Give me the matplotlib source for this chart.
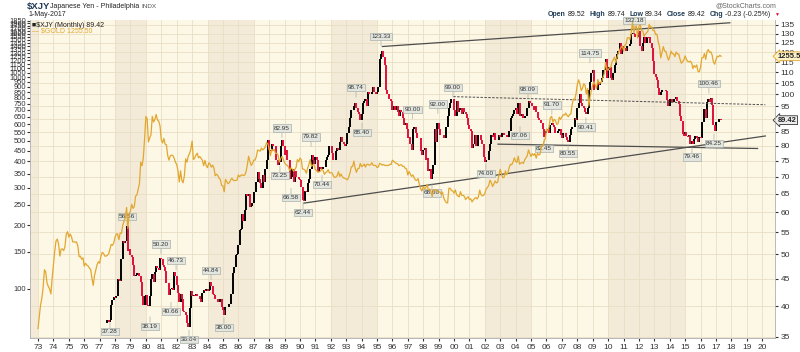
import matplotlib
matplotlib.use("Agg")
import matplotlib.pyplot as plt
import matplotlib.ticker as mticker
import numpy as np

plt.rcParams['font.family'] = ['Liberation Sans', 'DejaVu Sans']

# ---- data (monthly closes) ----
xjy_start = 1977 + 6 / 12.0   # Jul 1977
xjy_close = [
    37.6, 37.4, 37.7, 40.2, 41.0, 41.6,                                   # 1977 Jul-Dec
    41.5, 41.8, 45.0, 44.8, 44.6, 49.0, 52.9, 52.6, 52.9, 56.5, 50.8, 51.3,  # 1978
    49.8, 49.5, 47.8, 45.5, 45.7, 46.1, 46.1, 45.5, 44.4, 41.7, 40.2, 41.7,  # 1979
    42.0, 40.2, 40.0, 41.8, 45.0, 45.9, 44.4, 46.3, 47.6, 47.2, 46.7, 49.3,  # 1980
    49.0, 47.8, 47.4, 46.5, 44.2, 44.2, 42.0, 43.1, 43.3, 42.9, 46.3, 45.5,  # 1981
    43.9, 42.4, 40.7, 42.2, 41.2, 39.2, 38.9, 38.5, 37.2, 36.6, 39.7, 42.6,  # 1982
    41.7, 42.0, 41.8, 42.2, 41.8, 41.7, 41.3, 40.7, 42.4, 42.9, 42.6, 43.1,  # 1983
    42.7, 42.9, 44.4, 43.7, 42.2, 42.0, 41.2, 41.3, 40.7, 40.7, 41.2, 39.8,  # 1984
    39.4, 38.5, 39.8, 39.8, 39.8, 40.3, 42.2, 42.2, 46.1, 47.4, 49.8, 50.0,  # 1985
    52.1, 55.6, 55.9, 59.5, 57.8, 60.6, 64.9, 64.5, 64.9, 61.3, 61.7, 62.5,  # 1986
    65.4, 65.4, 68.5, 71.4, 69.4, 68.0, 66.7, 70.4, 68.5, 72.5, 75.2, 82.0,  # 1987
    78.7, 78.1, 80.6, 80.0, 80.0, 75.2, 75.2, 73.5, 74.6, 80.0, 82.0, 80.0,  # 1988
    76.9, 78.7, 75.2, 75.2, 69.4, 69.9, 72.5, 68.5, 71.9, 69.9, 69.9, 69.4,  # 1989
    69.0, 67.1, 63.3, 62.9, 65.8, 65.4, 68.0, 69.4, 72.5, 76.9, 75.2, 74.1,  # 1990
    76.3, 75.2, 71.4, 73.0, 72.5, 72.5, 73.0, 73.0, 75.2, 76.3, 76.9, 80.0,  # 1991
    80.0, 77.5, 75.2, 75.2, 78.1, 79.4, 78.7, 81.3, 83.3, 81.3, 80.6, 80.0,  # 1992
    80.6, 84.7, 87.0, 90.1, 93.5, 93.5, 95.2, 96.2, 94.3, 92.6, 91.7, 89.3,  # 1993
    91.7, 96.2, 97.1, 98.0, 95.2, 101.0, 100.0, 100.0, 101.0, 103.1, 101.0, 100.0,  # 1994
    101.0, 103.1, 116.3, 119.0, 120.5, 117.6, 113.6, 102.0, 100.0, 98.0, 98.0, 97.1,  # 1995
    93.5, 95.2, 93.5, 95.2, 92.6, 90.9, 93.5, 92.6, 90.1, 87.7, 88.5, 86.2,  # 1996
    82.6, 83.3, 80.6, 78.7, 86.2, 87.0, 84.7, 82.6, 82.6, 82.6, 78.1, 76.9,  # 1997
    78.7, 79.4, 75.2, 75.8, 71.9, 72.5, 69.4, 70.9, 73.5, 86.2, 81.3, 88.5,  # 1998
    86.2, 84.0, 84.0, 84.0, 82.6, 82.6, 87.0, 90.9, 94.3, 96.2, 98.0, 98.0,  # 1999
    93.5, 90.9, 97.1, 92.6, 93.5, 94.3, 91.7, 94.3, 92.6, 91.7, 90.1, 87.7,  # 2000
    86.2, 85.5, 79.4, 80.6, 84.0, 80.0, 80.0, 84.0, 84.0, 82.0, 80.6, 76.3,  # 2001
    74.6, 75.2, 75.2, 78.1, 80.6, 84.0, 83.3, 84.7, 82.0, 82.0, 82.0, 84.0,  # 2002
    83.3, 84.7, 84.7, 84.0, 84.0, 83.3, 83.3, 85.5, 90.1, 90.9, 91.7, 93.5,  # 2003
    94.3, 91.7, 96.2, 90.9, 90.9, 91.7, 90.1, 90.9, 90.9, 94.3, 97.1, 96.2,  # 2004
    96.2, 95.2, 93.5, 95.2, 92.6, 90.1, 89.3, 89.3, 88.5, 86.2, 83.3, 84.7,  # 2005
    85.5, 86.2, 84.7, 87.7, 88.5, 87.7, 87.0, 84.7, 84.7, 85.5, 86.2, 84.0,  # 2006
    82.6, 84.7, 84.7, 83.3, 82.0, 81.3, 84.0, 86.2, 87.0, 87.0, 90.1, 89.3,  # 2007
    94.3, 96.2, 100.0, 96.2, 95.2, 94.3, 92.6, 91.7, 94.3, 102.0, 105.3, 109.9,  # 2008
    111.1, 102.0, 102.0, 102.0, 105.3, 104.2, 105.3, 107.5, 111.1, 111.1, 116.3, 107.5,  # 2009
    111.1, 112.4, 107.5, 106.4, 109.9, 113.6, 116.3, 119.0, 120.5, 125.0, 119.0, 123.5,  # 2010
    122.0, 122.0, 120.5, 123.5, 123.5, 124.2, 129.9, 130.5, 129.9, 128.2, 128.2, 129.9,  # 2011
    131.6, 123.5, 120.5, 125.0, 128.2, 125.0, 128.2, 127.4, 128.2, 125.0, 122.0, 115.3,  # 2012
    109.1, 108.0, 106.2, 102.7, 99.5, 100.8, 102.1, 101.9, 101.7, 101.6, 97.7, 95.0,  # 2013
    98.0, 98.2, 96.9, 97.8, 98.2, 98.7, 97.3, 96.1, 91.2, 89.0, 84.3, 83.5,  # 2014
    85.1, 83.6, 83.3, 83.8, 80.6, 81.7, 80.7, 82.5, 83.4, 82.9, 81.2, 83.2,  # 2015
    82.6, 88.7, 88.9, 93.9, 90.3, 96.9, 97.9, 96.7, 98.6, 95.4, 87.4, 85.5,  # 2016
    88.7, 88.7, 89.8, 89.7, 89.42,                                         # 2017 Jan-May
]

gold_start = 1973.0
gold_close = [
    65.1, 74.2, 84.3, 90.5, 102.0, 123.3, 120.2, 106.8, 103.0, 100.1, 94.8, 112.3,  # 1973
    129.3, 150.2, 168.4, 172.2, 163.3, 143.0, 154.1, 154.6, 151.8, 158.8, 181.7, 186.5,  # 1974
    175.8, 181.8, 177.3, 167.0, 167.0, 166.3, 166.7, 159.8, 142.0, 142.9, 138.2, 140.3,  # 1975
    128.2, 132.3, 129.6, 128.4, 125.5, 123.8, 112.5, 104.0, 116.0, 123.2, 130.3, 134.5,  # 1976
    132.3, 142.8, 148.9, 147.3, 143.0, 143.0, 144.1, 146.3, 154.1, 162.3, 160.5, 165.0,  # 1977
    175.8, 182.3, 181.6, 170.9, 184.2, 183.1, 200.3, 208.7, 217.1, 242.6, 193.4, 226.0,  # 1978
    233.7, 251.3, 240.1, 245.3, 274.6, 277.5, 296.5, 315.1, 397.3, 382.0, 415.7, 512.0,  # 1979
    653.0, 637.0, 494.5, 517.0, 535.5, 653.5, 614.3, 631.3, 666.8, 629.0, 619.8, 589.8,  # 1980
    506.5, 489.0, 513.8, 482.8, 479.3, 426.0, 406.0, 425.0, 428.8, 427.0, 414.5, 397.5,  # 1981
    387.0, 362.6, 320.0, 361.3, 325.3, 317.5, 342.9, 411.5, 397.0, 423.3, 436.0, 456.9,  # 1982
    499.5, 408.5, 414.8, 429.3, 437.5, 416.0, 422.0, 414.3, 405.0, 382.0, 405.0, 382.4,  # 1983
    373.8, 394.3, 388.5, 375.8, 384.3, 373.1, 342.4, 348.3, 343.8, 333.5, 329.0, 308.3,  # 1984
    306.7, 287.8, 329.3, 321.4, 314.0, 317.8, 327.5, 333.3, 326.0, 325.1, 325.3, 326.8,  # 1985
    345.5, 338.8, 344.0, 345.8, 343.2, 345.5, 357.5, 384.7, 423.2, 401.0, 383.5, 390.9,  # 1986
    405.9, 405.9, 421.0, 453.3, 451.0, 447.3, 462.5, 453.4, 459.5, 468.8, 492.5, 484.1,  # 1987
    458.0, 426.2, 457.0, 449.0, 455.5, 436.6, 436.8, 427.8, 397.7, 412.4, 422.6, 410.3,  # 1988
    394.0, 387.0, 383.2, 377.6, 361.8, 373.0, 368.3, 359.8, 366.5, 375.3, 408.2, 398.6,  # 1989
    415.1, 407.7, 368.5, 367.8, 363.1, 352.2, 372.3, 387.8, 408.4, 379.5, 384.9, 386.2,  # 1990
    366.0, 362.7, 355.7, 357.7, 360.4, 368.4, 362.9, 347.4, 354.9, 357.5, 366.3, 353.2,  # 1991
    354.1, 353.1, 341.7, 336.4, 337.5, 343.4, 357.8, 340.0, 349.0, 339.3, 334.2, 333.3,  # 1992
    330.5, 327.6, 337.8, 354.3, 377.9, 378.5, 401.8, 371.6, 355.5, 369.6, 370.9, 391.8,  # 1993
    377.9, 381.6, 389.2, 376.5, 387.6, 388.3, 384.0, 385.8, 394.9, 383.9, 383.1, 383.3,  # 1994
    374.9, 376.4, 392.0, 389.8, 384.3, 387.1, 383.4, 382.4, 384.0, 382.7, 387.8, 387.0,  # 1995
    405.6, 400.7, 396.4, 391.3, 390.6, 382.0, 385.3, 386.5, 379.0, 379.5, 371.3, 369.3,  # 1996
    345.5, 358.6, 348.2, 340.2, 345.6, 334.6, 326.4, 325.4, 332.1, 311.4, 296.8, 290.2,  # 1997
    304.9, 297.4, 301.0, 310.7, 293.6, 296.3, 288.9, 273.4, 293.9, 292.3, 294.7, 287.8,  # 1998
    287.1, 287.3, 279.5, 286.6, 268.6, 261.0, 255.6, 254.8, 299.0, 299.1, 291.4, 290.3,  # 1999
    283.3, 293.7, 278.4, 275.1, 272.3, 288.2, 276.8, 277.0, 273.7, 264.5, 269.1, 272.7,  # 2000
    264.5, 266.7, 257.7, 263.2, 267.5, 270.6, 265.9, 273.0, 293.1, 278.8, 275.5, 276.5,  # 2001
    282.3, 296.9, 301.4, 308.2, 326.6, 318.5, 304.7, 312.8, 323.7, 316.9, 319.1, 347.2,  # 2002
    367.5, 347.5, 334.9, 336.8, 361.4, 346.0, 354.8, 375.6, 388.0, 386.3, 398.4, 416.3,  # 2003
    399.8, 395.9, 423.7, 388.5, 393.3, 395.8, 391.4, 407.3, 415.7, 425.6, 453.4, 435.6,  # 2004
    422.2, 435.5, 427.5, 435.7, 414.5, 437.1, 429.0, 433.3, 473.3, 470.8, 495.7, 513.0,  # 2005
    568.8, 556.0, 582.0, 644.0, 653.0, 613.5, 632.5, 623.5, 599.3, 603.8, 646.7, 632.0,  # 2006
    650.5, 664.2, 661.8, 677.0, 659.1, 650.5, 665.5, 672.0, 743.0, 789.5, 783.5, 833.8,  # 2007
    923.3, 971.5, 933.5, 865.0, 885.8, 930.3, 918.0, 833.0, 884.5, 730.8, 814.5, 869.8,  # 2008
    919.5, 952.0, 916.5, 883.3, 975.5, 934.5, 939.0, 955.5, 995.8, 1040.0, 1175.8, 1087.5,  # 2009
    1078.5, 1109.5, 1113.3, 1179.3, 1207.5, 1244.0, 1169.0, 1246.0, 1307.0, 1346.8, 1383.5, 1405.5,  # 2010
    1327.0, 1411.0, 1439.0, 1535.5, 1536.5, 1505.5, 1628.5, 1813.5, 1620.0, 1722.0, 1746.0, 1531.0,  # 2011
    1744.0, 1770.0, 1662.5, 1651.3, 1558.0, 1598.5, 1622.0, 1648.5, 1776.0, 1719.0, 1726.0, 1657.5,  # 2012
    1664.8, 1588.5, 1598.3, 1469.0, 1394.5, 1234.6, 1314.5, 1394.8, 1326.5, 1324.0, 1253.0, 1204.5,  # 2013
    1251.0, 1326.5, 1291.8, 1288.5, 1250.5, 1315.0, 1285.3, 1285.8, 1216.5, 1164.3, 1182.8, 1206.0,  # 2014
    1260.3, 1214.0, 1187.0, 1180.3, 1190.6, 1171.0, 1098.4, 1135.0, 1114.0, 1142.4, 1065.0, 1060.3,  # 2015
    1116.4, 1234.9, 1237.0, 1293.6, 1212.9, 1320.8, 1350.9, 1309.3, 1317.1, 1271.6, 1178.1, 1151.7,  # 2016
    1212.8, 1255.6, 1249.2, 1268.3, 1255.5,                                                # 2017
]

# annotated turning points: (time, value, above/below)
pivots = [
    (1977.67, 37.28, 'low'), (1978.78, 56.56, 'high'), (1980.27, 38.19, 'low'),
    (1980.98, 50.20, 'high'), (1981.63, 40.66, 'low'), (1981.96, 46.73, 'high'),
    (1982.80, 36.04, 'low'), (1984.23, 44.84, 'high'), (1985.07, 38.00, 'low'),
    (1988.83, 82.95, 'high'), (1988.70, 73.25, 'low'), (1989.42, 66.58, 'low'),
    (1990.20, 62.44, 'low'), (1990.72, 79.82, 'high'), (1991.43, 70.44, 'low'),
    (1993.64, 98.74, 'high'), (1994.03, 88.40, 'low'), (1995.26, 123.33, 'high'),
    (1997.30, 90.00, 'high'), (1998.57, 68.00, 'low'), (1998.95, 92.00, 'high'),
    (1999.93, 99.00, 'high'), (2002.07, 74.00, 'low'), (2004.28, 87.06, 'low'),
    (2004.80, 98.09, 'high'), (2005.84, 82.45, 'low'), (2006.35, 91.70, 'high'),
    (2007.40, 80.55, 'low'), (2008.56, 90.41, 'low'), (2008.82, 114.75, 'high'),
    (2011.68, 132.18, 'high'), (2015.44, 79.46, 'low'), (2016.54, 100.46, 'high'),
    (2016.87, 84.25, 'low'),
]

# trendlines (start time, start value, end time, end value)
upper_line = (1995.35, 123.0, 2017.9, 136.3)
lower_line = (1990.25, 62.44, 2020.2, 83.5)
flat_line = (2002.85, 80.6, 2019.7, 79.1)
dash_line = (1999.95, 99.0, 2020.2, 95.6)

xjy_ticks = list(range(35, 140, 5))
gold_ticks = list(range(100, 1900, 50))
shade_years = [(1972.4, 1973.0), (1978.0, 1980.0), (1984.0, 1987.0), (1992.0, 1995.0),
               (2002.0, 2005.0), (2010.0, 2015.0)]

W, H = 800, 352
fig = plt.figure(figsize=(W / 100, H / 100), dpi=100)
fig.patch.set_facecolor('white')
ax = fig.add_axes([30 / W, 14 / H, 745 / W, 318 / H])
ax.set_facecolor('#fdf7e6')
gx = ax.twinx()

ax.set_xlim(1972.48, 2020.83)
ax.set_yscale('log')
ax.set_ylim(34.83, 137.95)
gx.set_yscale('log')
gx.set_ylim(58.7, 1862)

for a, b in shade_years:
    ax.axvspan(a, b, color='#f3ebd8', lw=0, zorder=0)

years = np.arange(1973, 2021)
for yv in years:
    ax.axvline(yv, color='#e9dfc4', lw=0.6, zorder=0.5)
for t in xjy_ticks:
    ax.axhline(t, color='#e9dfc4', lw=0.6, zorder=0.5)

# xjy monthly bars: body from previous close to close
xc = np.array(xjy_close)
xt = xjy_start + np.arange(len(xc)) / 12.0
prev = np.concatenate([[xc[0] * 0.99], xc[:-1]])
up = xc >= prev
ax.vlines(xt[up], prev[up], xc[up], colors='black', lw=1.4, zorder=3)
ax.vlines(xt[~up], prev[~up], xc[~up], colors='#e0103a', lw=1.4, zorder=3)

gc = np.array(gold_close)
gt = gold_start + np.arange(len(gc)) / 12.0
gx.plot(gt, gc, color='#e2a72e', lw=0.9, zorder=2)

# trendlines
for ln in (upper_line, lower_line, flat_line):
    ax.plot([ln[0], ln[2]], [ln[1], ln[3]], color='#4d4d4d', lw=0.9, zorder=4)
ax.plot([dash_line[0], dash_line[2]], [dash_line[1], dash_line[3]], color='#4d4d4d',
        lw=0.7, ls=(0, (2.5, 1.5)), zorder=4)

# pivot labels
for t, v, kind in pivots:
    dy = 5 if kind == 'high' else -5
    ax.annotate('%.2f' % v, xy=(t, v), xytext=(0, dy), textcoords='offset points',
                ha='center', va='bottom' if kind == 'high' else 'top',
                fontsize=4.6, color='#333333', zorder=6,
                bbox=dict(boxstyle='square,pad=0.18', fc='#e3e6df', ec='#a9b0a9', lw=0.5),
                arrowprops=dict(arrowstyle='-', color='#a9b0a9', lw=0.5, shrinkA=0, shrinkB=0))

# axes formatting
ax.yaxis.tick_right()
ax.set_yticks(xjy_ticks)
ax.yaxis.set_minor_locator(mticker.NullLocator())
ax.set_yticklabels([str(t) for t in xjy_ticks])
ax.tick_params(axis='y', labelsize=6, colors='#333333', length=2, pad=2)
gx.yaxis.tick_left()
gx.set_yticks(gold_ticks)
gx.yaxis.set_minor_locator(mticker.NullLocator())
gx.set_yticklabels([str(t) for t in gold_ticks])
gx.tick_params(axis='y', labelsize=5.4, colors='#333333', length=2, pad=1)
ax.set_xticks(years)
ax.set_xticklabels(['%02d' % (y % 100) for y in years])
ax.tick_params(axis='x', labelsize=6, colors='#333333', length=2, pad=2)
for a in (ax, gx):
    a.spines['top'].set_visible(False)
    for s in ('left', 'right', 'bottom'):
        a.spines[s].set_color('#b8b8b8')
        a.spines[s].set_linewidth(0.6)
gx.spines['right'].set_linestyle(':')

# last value tags on the right axis
ax.annotate('89.42', xy=(1.0, xc[-1]), xycoords=('axes fraction', 'data'),
            xytext=(2, 0), textcoords='offset points', ha='left', va='center',
            fontsize=5.4, fontweight='bold', color='#222222', zorder=8,
            bbox=dict(boxstyle='larrow,pad=0.12', fc='#eeeeee', ec='#333333', lw=0.6))
gx.annotate('1255.50', xy=(1.0, gc[-1]), xycoords=('axes fraction', 'data'),
            xytext=(2, 0), textcoords='offset points', ha='left', va='center',
            fontsize=5.4, fontweight='bold', color='#222222', zorder=8,
            bbox=dict(boxstyle='larrow,pad=0.12', fc='#fdf1c8', ec='#e2a72e', lw=0.6))

# legend
ax.text(0.003, 0.995, '\u25a0$XJY (Monthly) 89.42', transform=ax.transAxes, fontsize=5,
        color='#222222', va='top', ha='left', zorder=7)
ax.text(0.003, 0.975, '\u2014 $GOLD 1255.50', transform=ax.transAxes, fontsize=5,
        color='#e2a72e', va='top', ha='left', zorder=7)

# header
def px(x, y):
    return x / W, 1 - y / H

fig.text(*px(27, 6), '$XJY', fontsize=6.8, fontweight='bold', color='#1f3a55', va='center')
fig.text(*px(50, 6), 'Japanese Yen - Philadelphia', fontsize=5, color='#222222', va='center')
fig.text(*px(141, 6), 'INDX', fontsize=4.6, color='#555555', va='center')
fig.text(*px(28, 14.5), '1-May-2017', fontsize=5, color='#222222', va='center')
fig.text(*px(776, 6), '@StockCharts.com', fontsize=5, color='#666666', va='center', ha='right')

header_items = [('Open', True), ('89.52', False), ('High', True), ('89.74', False),
                ('Low', True), ('89.34', False), ('Close', True), ('89.42', False),
                ('Chg', True), ('-0.23 (-0.25%)', False)]
renderer = fig.canvas.get_renderer()
xpos = 548
for s, bold in header_items:
    tt = fig.text(*px(xpos, 14.5), s, fontsize=5, color='#1f3a55' if bold else '#222222',
                  fontweight='bold' if bold else 'normal', va='center')
    w = tt.get_window_extent(renderer).width
    xpos += w + (2 if bold else 4)
fig.text(*px(xpos + 1, 14.5), '\u25bc', fontsize=3.6, color='#d0103a', va='center')

fig.savefig('out.png', dpi=100)
